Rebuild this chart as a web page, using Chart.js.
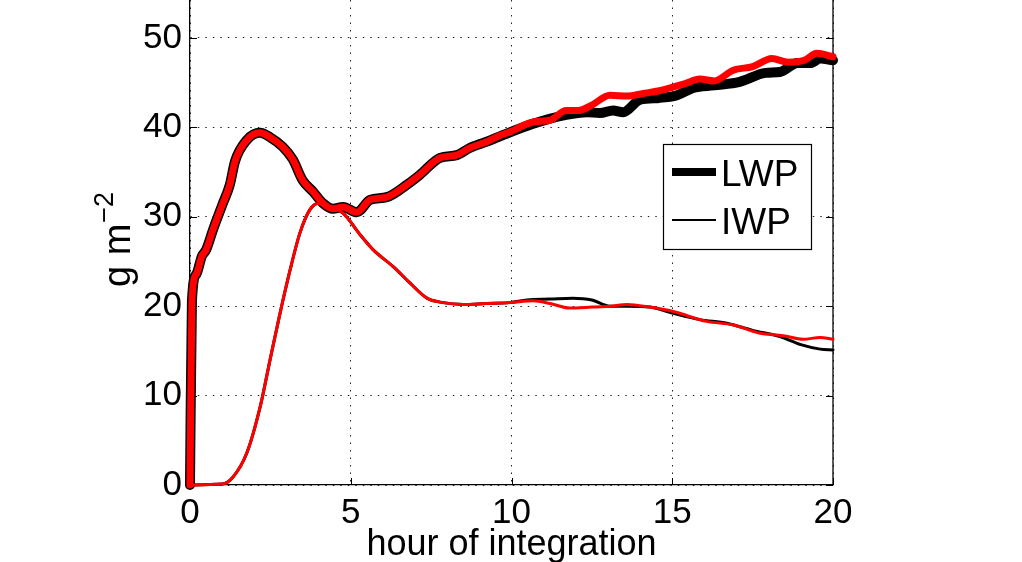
<!DOCTYPE html>
<html>
<head>
<meta charset="utf-8">
<script src="https://cdn.jsdelivr.net/npm/chart.js@4.4.0/dist/chart.umd.min.js"></script>
<style>
  html, body { margin: 0; padding: 0; background: #fff; overflow: hidden; }
  canvas { display: block; }
</style>
</head>
<body>
<canvas id="waterPathChart" width="1022" height="562"></canvas>
<script>
// hours of integration and water paths (g m^-2)
const lwpHoursRed = [0, 0.06, 0.2, 0.37, 0.5, 0.72, 1.0, 1.24, 1.4, 1.77, 2.18, 2.49, 2.89, 3.2, 3.5, 3.83, 4.14, 4.45, 4.76, 5.19, 5.6, 6.12, 6.75, 7.15, 7.78, 8.3, 8.7, 9.23, 9.64, 9.95, 10.67, 11.2, 11.7, 12.1, 12.5, 13.06, 13.6, 14.1, 14.6, 15.4, 15.86, 16.3, 16.9, 17.5, 18.1, 18.6, 19.1, 19.5, 20];
const lwpRed      = [0, 20.6, 23.6, 25.6, 26.3, 28.6, 31.3, 33.6, 36.2, 38.6, 39.4, 38.9, 37.8, 36.4, 34.1, 32.8, 31.5, 30.9, 31.1, 30.5, 31.9, 32.2, 33.6, 34.7, 36.6, 36.9, 37.7, 38.4, 39.1, 39.5, 40.6, 40.8, 41.9, 41.9, 42.5, 43.6, 43.5, 43.8, 44.1, 44.9, 45.4, 45.2, 46.4, 46.8, 47.7, 47.3, 47.5, 48.3, 47.9];

const lwpHoursBlack = [0, 0.06, 0.2, 0.37, 0.5, 0.72, 1.0, 1.24, 1.4, 1.77, 2.18, 2.49, 2.89, 3.2, 3.5, 3.83, 4.14, 4.45, 4.76, 5.19, 5.6, 6.12, 6.75, 7.15, 7.78, 8.3, 8.7, 9.23, 9.64, 10.67, 11.7, 12.35, 12.75, 13.16, 13.47, 14.0, 14.6, 15.15, 15.65, 16.3, 17.1, 17.9, 18.35, 18.9, 19.3, 19.6, 20];
const lwpBlack      = [0, 20.6, 23.6, 25.6, 26.3, 28.6, 31.3, 33.6, 36.2, 38.6, 39.4, 38.9, 37.8, 36.4, 34.1, 32.8, 31.5, 30.9, 31.1, 30.5, 31.9, 32.2, 33.6, 34.7, 36.6, 36.9, 37.7, 38.4, 39.0, 40.4, 41.4, 41.7, 41.6, 41.9, 41.7, 43.1, 43.3, 43.6, 44.4, 44.7, 45.1, 46.1, 46.2, 47.2, 47.2, 47.7, 47.5];

const iwpHoursRed = [0, 1.0, 1.34, 1.77, 2.18, 2.49, 2.8, 3.11, 3.42, 3.73, 3.98, 4.35, 4.76, 5.29, 5.7, 6.33, 6.84, 7.37, 7.87, 8.5, 9.2, 9.95, 10.67, 11.2, 11.8, 12.5, 13.06, 13.6, 14.3, 15.03, 16.07, 16.9, 17.7, 18.45, 19.07, 19.6, 20];
const iwpRed      = [0, 0.1, 0.9, 3.6, 8.7, 14.0, 19.2, 24.0, 28.2, 30.8, 31.5, 31.1, 30.4, 28.0, 26.3, 24.4, 22.6, 20.9, 20.4, 20.2, 20.3, 20.4, 20.6, 20.3, 19.8, 19.9, 20.0, 20.2, 19.9, 19.4, 18.3, 17.9, 17.0, 16.7, 16.3, 16.5, 16.3];

const iwpHoursBlack = [0, 1.0, 1.34, 1.77, 2.18, 2.49, 2.8, 3.11, 3.42, 3.73, 3.98, 4.35, 4.76, 5.29, 5.7, 6.33, 6.84, 7.37, 7.87, 8.5, 9.2, 9.95, 10.48, 11.2, 11.9, 12.5, 13.06, 13.6, 14.3, 15.03, 15.86, 16.7, 17.5, 18.35, 19.0, 19.6, 20];
const iwpBlack      = [0, 0.1, 0.9, 3.6, 8.7, 14.0, 19.2, 24.0, 28.2, 30.8, 31.5, 31.1, 30.4, 28.0, 26.3, 24.4, 22.6, 20.9, 20.4, 20.2, 20.3, 20.4, 20.7, 20.8, 20.9, 20.7, 20.0, 20.0, 19.9, 19.2, 18.5, 18.1, 17.3, 16.6, 15.7, 15.2, 15.1];

const xTicks = [0, 5, 10, 15, 20];
const yTicks = [0, 10, 20, 30, 40, 50];
const legendLabels = ['LWP', 'IWP'];

const FONT = '"Liberation Sans", Arial, Helvetica, sans-serif';

function toPoints(hours, values) {
    return hours.map((h, i) => ({ x: h, y: values[i] }));
}

// lower order is drawn on top in Chart.js
function lineSet(label, hours, values, color, width, order) {
    return {
        label: label,
        data: toPoints(hours, values),
        borderColor: color,
        borderWidth: width,
        order: order,
        pointRadius: 0,
        fill: false,
        clip: false,
        cubicInterpolationMode: 'monotone',
        borderJoinStyle: 'round',
        borderCapStyle: 'round'
    };
}

// inward ticks, right frame, legend box and axis titles
const matlabDecor = {
    id: 'matlabDecor',
    beforeDatasetsDraw(chart) {
        const ctx = chart.ctx;
        const area = chart.chartArea;
        const xs = chart.scales.x, ys = chart.scales.y;
        ctx.save();
        ctx.strokeStyle = '#000';
        ctx.lineWidth = 1;
        ctx.beginPath();
        xTicks.forEach(t => {
            const px = Math.round(xs.getPixelForValue(t)) + 0.5;
            ctx.moveTo(px, area.bottom);
            ctx.lineTo(px, area.bottom - 7);
        });
        yTicks.forEach(t => {
            const py = Math.round(ys.getPixelForValue(t)) + 0.5;
            ctx.moveTo(area.left, py);
            ctx.lineTo(area.left + 7, py);
            ctx.moveTo(area.right, py);
            ctx.lineTo(area.right - 7, py);
        });
        ctx.stroke();
        ctx.lineWidth = 1.3;
        ctx.beginPath();
        ctx.moveTo(area.right, area.top);
        ctx.lineTo(area.right, area.bottom);
        ctx.stroke();
        ctx.restore();
    },
    afterDraw(chart) {
        const ctx = chart.ctx;
        const area = chart.chartArea;
        ctx.save();

        // legend
        const bx = 663.5, by = 144.5, bw = 148, bh = 105;
        ctx.fillStyle = '#fff';
        ctx.fillRect(bx, by, bw, bh);
        ctx.strokeStyle = '#000';
        ctx.lineWidth = 1.2;
        ctx.strokeRect(bx, by, bw, bh);
        const rows = [
            { y: 172, width: 8 },
            { y: 220, width: 2 }
        ];
        ctx.font = '37px ' + FONT;
        ctx.fillStyle = '#000';
        ctx.textBaseline = 'alphabetic';
        ctx.textAlign = 'left';
        rows.forEach((r, i) => {
            ctx.beginPath();
            ctx.lineWidth = r.width;
            ctx.lineCap = 'butt';
            ctx.moveTo(672, r.y);
            ctx.lineTo(716, r.y);
            ctx.stroke();
            ctx.fillText(legendLabels[i], 721, r.y + 14);
        });

        // x title
        ctx.font = '36px ' + FONT;
        ctx.textAlign = 'center';
        ctx.fillText('hour of integration', (area.left + area.right) / 2, 555);

        // y title with superscript
        ctx.translate(130, 287);
        ctx.rotate(-Math.PI / 2);
        ctx.textAlign = 'left';
        ctx.font = '38px ' + FONT;
        ctx.fillText('g m', 0, 0);
        const w = ctx.measureText('g m').width;
        ctx.font = '27px ' + FONT;
        ctx.fillText('\u22122', w + 1, -17);
        ctx.restore();
    }
};

const chartCtx = document.getElementById('waterPathChart').getContext('2d');
new Chart(chartCtx, {
    type: 'line',
    data: {
        datasets: [
            lineSet('LWP', lwpHoursBlack, lwpBlack, '#000000', 10, 3),
            lineSet('LWP red', lwpHoursRed, lwpRed, '#ff0000', 7, 1),
            lineSet('IWP', iwpHoursBlack, iwpBlack, '#000000', 3, 2),
            lineSet('IWP red', iwpHoursRed, iwpRed, '#ff0000', 3, 0)
        ]
    },
    options: {
        responsive: false,
        animation: false,
        devicePixelRatio: 1,
        layout: { padding: { left: 0, right: 189, top: 0, bottom: 0 } },
        plugins: {
            legend: { display: false },
            tooltip: { enabled: false }
        },
        scales: {
            x: {
                type: 'linear',
                min: 0,
                max: 20,
                ticks: {
                    stepSize: 5,
                    color: '#000',
                    padding: 7,
                    maxRotation: 0,
                    font: { family: FONT, size: 35 }
                },
                grid: { color: '#222', lineWidth: 1, drawTicks: false },
                border: { color: '#000', width: 1.3, dash: [1.5, 6] },
                afterFit(scale) {
                    scale.height = 77;
                    scale.paddingLeft = 0;
                    scale.paddingRight = 0;
                }
            },
            y: {
                type: 'linear',
                min: 0,
                max: 54.25,
                ticks: {
                    stepSize: 10,
                    includeBounds: false,
                    color: '#000',
                    padding: 8,
                    font: { family: FONT, size: 35 }
                },
                grid: { color: '#222', lineWidth: 1, drawTicks: false },
                border: { color: '#000', width: 1.3, dash: [1.5, 6] },
                afterFit(scale) {
                    scale.width = 190;
                    scale.paddingTop = 0;
                    scale.paddingBottom = 0;
                }
            }
        }
    },
    plugins: [matlabDecor]
});
</script>
</body>
</html>
